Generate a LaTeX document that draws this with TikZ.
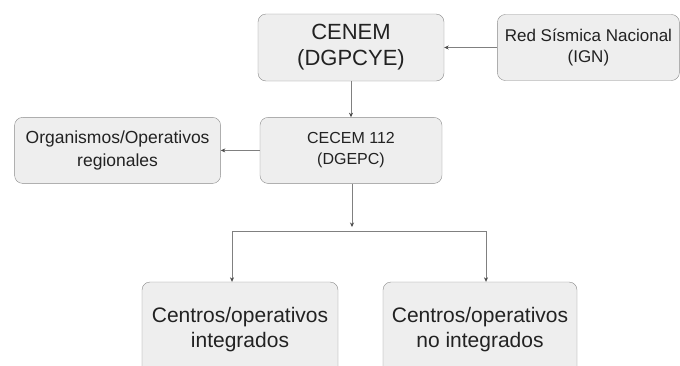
\documentclass[tikz,border=0pt]{standalone}
\usepackage{fontspec}
\setmainfont{Liberation Sans}
\usepackage{tikz}
\usetikzlibrary{arrows.meta, positioning, calc}
\definecolor{orgline}{HTML}{8A8A8A}
\definecolor{orgfill}{HTML}{EEEEEE}
\definecolor{orgtext}{HTML}{222222}
\tikzstyle{box}=[rectangle, draw=orgline, fill=orgfill, text=orgtext, align=center, rounded corners=8pt, minimum width=182pt, minimum height=66pt, inner sep=2pt]
\tikzstyle{arrow}=[draw=gray, -{Stealth[length=4.5pt, width=4pt, color=black!70]}, line width=0.6pt]

\begin{document}
\begin{tikzpicture}[x=1pt, y=-1pt]
    \useasboundingbox (0,0) rectangle (680,365);
    \node[box, minimum width=186pt, minimum height=67pt, font=\fontsize{22}{26}\selectfont] (cenem) at (351,47.5) {CENEM\\(DGPCYE)};
    \node[box, right=53pt of cenem, font=\fontsize{17}{21}\selectfont] (red) {Red Sísmica Nacional\\(IGN)};
    \node[box, below=36pt of cenem, font=\fontsize{16}{21}\selectfont] (cecem) {CECEM 112\\(DGEPC)};
    \node[box, left=39pt of cecem, minimum width=206pt, font=\fontsize{17.5}{23}\selectfont] (org) {Organismos/Operativos\\regionales};
    \node[box, minimum width=196pt, minimum height=96pt, font=\fontsize{21}{25}\selectfont] (integ) at (240,330) {Centros/operativos\\integrados};
    \node[box, minimum width=194pt, minimum height=96pt, font=\fontsize{21}{25}\selectfont] (nointeg) at (480,330) {Centros/operativos\\no integrados};

    \coordinate (split) at (352,231);
    \coordinate (splitL) at (232,231);
    \coordinate (splitR) at (486,231);

    \draw[arrow] (red.west) -- (red.west -| cenem.east);
    \draw[arrow] (cenem.south) -- (cenem.south |- cecem.north);
    \draw[arrow] (cecem.west) -- (org.east);
    \draw[arrow] (cecem.south -| split) -- ($(split)+(0,-4)$);
    \draw[draw=gray, line width=0.6pt] (splitL) -- (splitR);
    \draw[arrow] (splitL) -- (splitL |- integ.north);
    \draw[arrow] (splitR) -- (splitR |- nointeg.north);
\end{tikzpicture}
\end{document}
